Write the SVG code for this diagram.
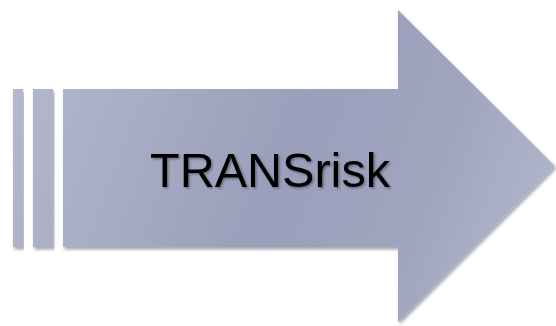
<svg xmlns="http://www.w3.org/2000/svg" width="556" height="326" viewBox="0 0 556 326">
  <defs>
    <linearGradient id="g" x1="0" y1="60" x2="556" y2="270" gradientUnits="userSpaceOnUse">
      <stop offset="0" stop-color="#B6BACE"/>
      <stop offset="0.5" stop-color="#9A9FBB"/>
      <stop offset="0.75" stop-color="#A0A4BF"/>
      <stop offset="1" stop-color="#B5B9CD"/>
    </linearGradient>
    <filter id="sh" x="-10%" y="-10%" width="120%" height="120%">
      <feDropShadow dx="1.5" dy="2.5" stdDeviation="1.8" flood-color="#000" flood-opacity="0.35"/>
    </filter>
    <filter id="tsh" x="-10%" y="-20%" width="120%" height="140%">
      <feDropShadow dx="1.5" dy="1.5" stdDeviation="1.2" flood-color="#000" flood-opacity="0.35"/>
    </filter>
  </defs>
  <style>
    .shape { fill: url(#g); filter: url(#sh); }
    .label { font-family: "Liberation Sans", Arial, sans-serif; font-size: 48.5px; fill: #000; filter: url(#tsh); }
  </style>
  <rect width="556" height="326" fill="#FFFFFF"/>
  <g id="arrow">
    <rect class="shape" x="13" y="89" width="10" height="158"/>
    <rect class="shape" x="33" y="89" width="20" height="158"/>
    <path class="shape" d="M63 89 H398 V10 L555 166 L398 322 V247 H63 Z"/>
    <text class="label" x="270" y="187" text-anchor="middle">TRANSrisk</text>
  </g>
  <g id="connectors"/>
</svg>
